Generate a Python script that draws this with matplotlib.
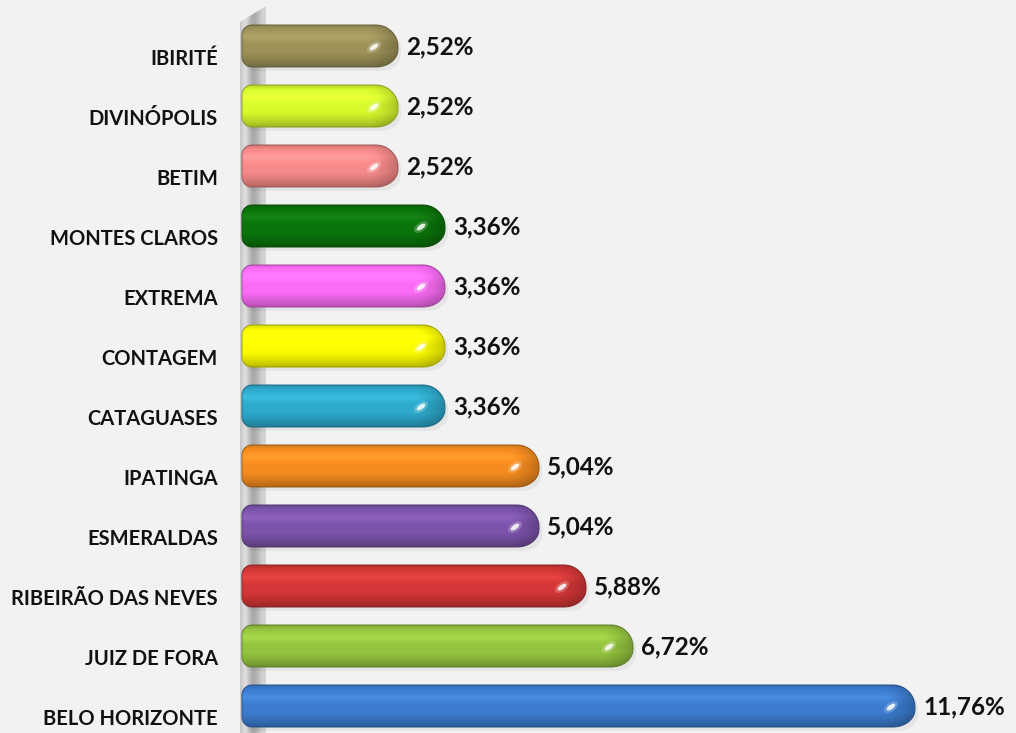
import numpy as np
import matplotlib
matplotlib.use("Agg")
import matplotlib.pyplot as plt
from matplotlib.path import Path
from matplotlib.patches import PathPatch, Ellipse, Polygon
from matplotlib.transforms import IdentityTransform, ScaledTranslation
import matplotlib.colors as mcolors


####################
# Data
####################

cities = ["BELO HORIZONTE", "JUIZ DE FORA", "RIBEIRÃO DAS NEVES", "ESMERALDAS",
          "IPATINGA", "CATAGUASES", "CONTAGEM", "EXTREMA", "MONTES CLAROS",
          "BETIM", "DIVINÓPOLIS", "IBIRITÉ"]
values = [11.76, 6.72, 5.88, 5.04, 5.04, 3.36, 3.36, 3.36, 3.36, 2.52, 2.52, 2.52]
value_labels = ["11,76%", "6,72%", "5,88%", "5,04%", "5,04%", "3,36%", "3,36%",
                "3,36%", "3,36%", "2,52%", "2,52%", "2,52%"]
bar_colors = ["#3a7acb", "#92c13e", "#cf3535", "#7a52a8", "#f0891f", "#2ca6c8",
              "#f7f700", "#f56af0", "#0a720a", "#f28787", "#d2f52c", "#9a8f57"]

bg = "#f2f2f2"
W, H, DPI = 1016, 733, 100


####################
# Helpers
####################

def rounded_bar_path(x0, y0, x1, y1, r_left, r_right, n=16):
    # rounded rectangle in pixel coords, bigger radius on the right end
    pts = []
    for a in np.linspace(np.pi, 1.5 * np.pi, n):
        pts.append((x0 + r_left + r_left * np.cos(a), y0 + r_left + r_left * np.sin(a)))
    for a in np.linspace(1.5 * np.pi, 2 * np.pi, n):
        pts.append((x1 - r_right + r_right * np.cos(a), y0 + r_right * 0.8 + r_right * 0.8 * np.sin(a)))
    for a in np.linspace(0, 0.5 * np.pi, n):
        pts.append((x1 - r_right + r_right * np.cos(a), y1 - r_right + r_right * np.sin(a)))
    for a in np.linspace(0.5 * np.pi, np.pi, n):
        pts.append((x0 + r_left + r_left * np.cos(a), y1 - r_left + r_left * np.sin(a)))
    pts.append(pts[0])
    codes = [Path.MOVETO] + [Path.LINETO] * (len(pts) - 2) + [Path.CLOSEPOLY]
    return Path(pts, codes)


def shaded_image(color, ny=64, nx=256, cap_frac=0.1):
    base = np.array(mcolors.to_rgb(color))
    t = np.linspace(0, 1, ny)[:, None]          # 0 = bottom, 1 = top
    # soft vertical profile: darker bottom edge, slightly lighter upper part
    f = 0.72 + 0.30 * np.clip(t / 0.35, 0, 1) ** 0.7
    f = f + 0.05 * np.exp(-((t - 0.7) / 0.12) ** 2)
    f = f - 0.14 * np.clip((t - 0.9) / 0.1, 0, 1)
    s = np.linspace(0, 1, nx)[None, :]
    cap = np.clip((s - (1 - cap_frac)) / cap_frac, 0, 1)
    f = f * (1 - 0.22 * cap ** 1.5)
    img = base[None, None, :] * f[:, :, None]
    img = img + 0.04 * np.exp(-((t - 0.72) / 0.1) ** 2)[:, :, None] * (1 - cap[:, :, None])
    return np.clip(img, 0, 1)


####################
# Plot
####################

fig = plt.figure(figsize=(W / DPI, H / DPI), dpi=DPI, facecolor=bg)
ax = fig.add_axes([240 / W, 0, 1 - 240 / W, 1])
ax.set_facecolor(bg)

ypos = np.arange(len(cities))
px_per_unit = 55.95
zero_px = 257
ax.set_xlim((240 - zero_px) / px_per_unit, (W - zero_px) / px_per_unit)
ax.set_ylim(-(733 - 706) / 60.0, 11 + 46 / 60.0)

bars = ax.barh(ypos, values, height=0.7, color="none", edgecolor="none")

for s in ax.spines.values():
    s.set_visible(False)
ax.set_xticks([])
ax.set_yticks(ypos)
ax.set_yticklabels(cities, fontsize=14.5, fontweight="bold", color="#111111",
                   family=["Lato", "DejaVu Sans"])
ax.tick_params(axis="y", length=0, pad=16)
for lab in ax.get_yticklabels():
    lab.set_transform(lab.get_transform() + ScaledTranslation(0, -11 / DPI, fig.dpi_scale_trans))

# side wall
wall_x0, wall_x1 = 240, 266
wall_img = np.array([[0.78, 0.90, 0.80, 0.68, 0.66, 0.72, 0.80, 0.84]])
wall = Polygon([(wall_x0, 0), (wall_x1, 0), (wall_x1, H - 6), (wall_x0, H - 22)],
               closed=True, transform=IdentityTransform(), facecolor="none", edgecolor="none")
ax.add_patch(wall)
inv = ax.transData.inverted()
(wx0, wy0) = inv.transform((wall_x0, 0))
(wx1, wy1) = inv.transform((wall_x1, H))
im = ax.imshow(np.repeat(wall_img[:, :, None], 3, axis=2), extent=[wx0, wx1, wy0, wy1],
               aspect="auto", interpolation="bicubic", zorder=1)
im.set_clip_path(wall)

# bars
for rect, col in zip(bars.patches, bar_colors):
    bb = rect.get_window_extent()
    x0 = bb.x0 - 15
    x1 = bb.x1
    y0, y1 = bb.y0, bb.y1
    # soft shadow
    sh = rounded_bar_path(x0 + 2, y0 - 4, x1 + 3, y1 - 4, 10, 20)
    ax.add_patch(PathPatch(sh, transform=IdentityTransform(), facecolor="#000000",
                           alpha=0.05, edgecolor="none", zorder=2))
    path = rounded_bar_path(x0, y0, x1, y1, 10, 22)
    patch = PathPatch(path, transform=IdentityTransform(), facecolor="none",
                      edgecolor=np.array(mcolors.to_rgb(col)) * 0.65, lw=0.7, zorder=4)
    ax.add_patch(patch)
    dx0, dy0 = inv.transform((x0, y0))
    dx1, dy1 = inv.transform((x1, y1))
    img = shaded_image(col, cap_frac=min(0.5, 30 / (x1 - x0)))
    bim = ax.imshow(img, extent=[dx0, dx1, dy0, dy1], aspect="auto",
                    interpolation="bilinear", origin="lower", zorder=3)
    bim.set_clip_path(patch)
    # highlight near the rounded end
    hx, hy = x1 - 24, (y0 + y1) / 2 - 1
    ax.add_patch(Ellipse((hx, hy), 16, 9, angle=35, transform=IdentityTransform(),
                         facecolor="white", alpha=0.22, edgecolor="none", zorder=5))
    ax.add_patch(Ellipse((hx, hy), 10, 4.5, angle=35, transform=IdentityTransform(),
                         facecolor="white", alpha=0.85, edgecolor="none", zorder=5))

# value labels
for y, v, lab in zip(ypos, values, value_labels):
    ax.annotate(lab, (v, y), xytext=(6, -1), textcoords="offset points",
                ha="left", va="center", fontsize=17.5, fontweight="bold",
                color="#111111", family=["Lato", "DejaVu Sans"])

fig.savefig("out.png", dpi=DPI, facecolor=bg)
